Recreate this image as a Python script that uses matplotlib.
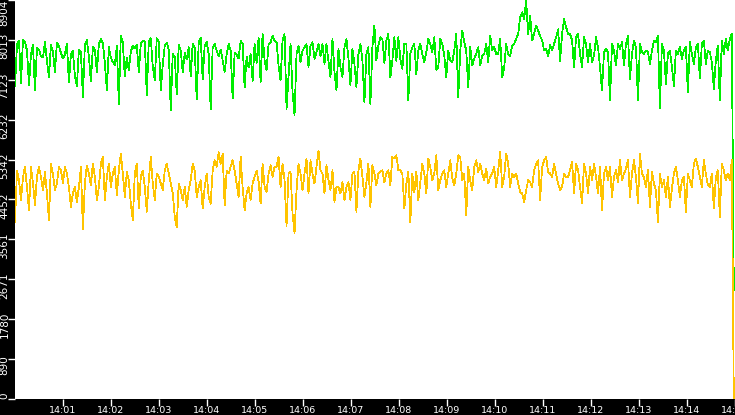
import numpy as np
import pandas as pd
import matplotlib
matplotlib.use("Agg")
import matplotlib.pyplot as plt
from matplotlib.transforms import ScaledTranslation, blended_transform_factory

# sampled every ~2.5 s from 14:00:00, last point is the drop at the end
green_values = [
    6980, 7920, 8000, 7050, 8020, 7960, 7780, 7000, 7700, 7900,
    6890, 7830, 7800, 7650, 7620, 7960, 7550, 7180, 7900, 7750,
    7300, 7950, 7880, 7720, 7600, 7690, 7920, 7070, 7690, 7760,
    7210, 6980, 7800, 7740, 6740, 7900, 8010, 7650, 7090, 7860,
    7800, 7300, 7920, 8030, 7950, 7500, 6890, 7850, 7620, 7520,
    7450, 7880, 6590, 8110, 7950, 7200, 7620, 7330, 7760, 7880,
    7820, 7900, 7290, 7930, 8000, 7980, 6780, 7960, 8050, 7420,
    7110, 8050, 7960, 6900, 7450, 7890, 7950, 7800, 6450, 7700,
    7640, 6800, 7900, 7780, 7300, 7720, 7580, 7850, 7200, 7930,
    7830, 6680, 7960, 8060, 7130, 7880, 7970, 7700, 6470, 7850,
    7920, 7780, 7650, 7800, 7560, 7300, 7700, 7920, 7780, 6710,
    7720, 7680, 7600, 7990, 7930, 6950, 7640, 7400, 7700, 7100,
    7924, 7500, 8050, 7070, 8150, 7550, 7330, 7924, 7960, 8110,
    7998, 7960, 7440, 7110, 8000, 8147, 6477, 7200, 7924, 6848,
    6330, 7702, 7887, 7516, 7776, 7850, 7924, 7405, 7887, 7961,
    7590, 7739, 7924, 7650, 7924, 7480, 7924, 7530, 7182, 8036,
    7300, 6885, 7813, 7400, 7182, 7850, 8036, 7600, 7000, 7813,
    7479, 6960, 7700, 7924, 7550, 6626, 7700, 7850, 6589, 7850,
    8332, 7553, 7887, 8073, 8036, 7500, 7998, 8147, 7182, 7550,
    8073, 7550, 8073, 7590, 7368, 7924, 7924, 6663, 7702, 7850,
    7924, 7250, 7776, 7924, 7702, 7516, 7739, 8036, 7924, 7739,
    8073, 7350, 7405, 8036, 7924, 7665, 7182, 7776, 7550, 7516,
    7776, 8147, 6737, 7776, 8221, 7961, 7776, 6960, 7850, 7442,
    7590, 7702, 7850, 7442, 7665, 7702, 7924, 7516, 8110, 7776,
    7850, 7700, 7702, 8036, 7182, 7400, 7924, 7700, 7650, 7880,
    7924, 8036, 8147, 8517, 8628, 8480, 8888, 8150, 8550, 7998,
    8147, 8332, 8220, 8100, 8000, 7776, 7813, 7650, 7900, 7776,
    7924, 8073, 8250, 7550, 8147, 8480, 8300, 8147, 8147, 8000,
    7400, 8073, 8147, 7702, 7405, 8073, 7924, 7516, 7924, 7516,
    7665, 8073, 7850, 7405, 6885, 7739, 7813, 7739, 6663, 7924,
    7776, 7440, 7924, 7813, 7961, 7440, 7924, 8110, 7145, 7700,
    7998, 7850, 6663, 7924, 7739, 7702, 7776, 7739, 7480, 7776,
    7998, 7961, 8110, 6480, 7924, 7776, 7034, 7702, 7776, 7405,
    6990, 7776, 7702, 7850, 7590, 7776, 7850, 6848, 7961, 7702,
    7479, 7850, 7924, 7150, 7924, 7998, 7479, 7776, 7739, 7516,
    6920, 7553, 7887, 6663, 7998, 7702, 8036, 7776, 8036, 8147,
    2430,
]

yellow_values = [
    3950, 5100, 4880, 4440, 4950, 5180, 4730, 4210, 5180, 4810,
    4330, 4960, 5180, 4960, 4660, 5070, 4590, 3990, 5250, 5030,
    4660, 4810, 5180, 5100, 4810, 5180, 5030, 4730, 4290, 4590,
    4730, 4400, 4730, 5180, 3780, 4810, 5210, 5030, 4770, 5250,
    4960, 4440, 4730, 5250, 5400, 4440, 4960, 5250, 4730, 5030,
    5180, 4550, 5100, 5470, 5030, 4510, 5070, 4880, 4360, 3990,
    5030, 5250, 4250, 4960, 5100, 4730, 4180, 4880, 5400, 4810,
    4440, 5030, 4960, 4810, 4660, 5100, 5250, 5030, 4810, 4590,
    4070, 3840, 4810, 4660, 4440, 4730, 4290, 4660, 4880, 5250,
    5100, 4510, 4730, 4880, 4250, 4730, 5030, 4510, 4360, 5100,
    5330, 5180, 5510, 5250, 5470, 4330, 5100, 5030, 5180, 5330,
    5100, 4810, 4510, 5400, 4730, 4210, 4590, 4730, 4440, 4810,
    4955, 5100, 4850, 4360, 5252, 4733, 4620, 5030, 5215, 4955,
    5178, 5178, 5400, 4733, 5252, 4881, 3866, 5030, 5070, 4140,
    3700, 4659, 5252, 5030, 4659, 5030, 5365, 4585, 5327, 5030,
    4807, 5178, 5549, 5104, 5030, 4585, 5215, 4881, 4659, 5104,
    4400, 4733, 4733, 4585, 4840, 4436, 4733, 4840, 4436, 5030,
    5070, 4180, 5104, 5365, 4955, 4510, 4840, 5252, 4290, 5215,
    5030, 4770, 5030, 5070, 5104, 4840, 5030, 5104, 4770, 5400,
    5365, 5440, 5104, 5104, 5030, 4250, 4807, 5070, 3950, 5030,
    4620, 5070, 4436, 4840, 5252, 5030, 4585, 5365, 5178, 4881,
    5030, 5440, 4659, 4881, 5030, 5104, 4733, 5030, 5327, 4920,
    4770, 5030, 5440, 5400, 4881, 5030, 4100, 5178, 4881, 4659,
    5178, 5327, 5070, 5252, 5030, 4881, 5140, 4807, 4955, 5030,
    5178, 4733, 5100, 5512, 4733, 4955, 5475, 5252, 4733, 5030,
    4955, 5030, 4807, 4622, 4585, 4400, 4659, 4881, 4840, 4733,
    5104, 5252, 5327, 4436, 5178, 5327, 5401, 5070, 5030, 4955,
    5252, 5030, 4807, 4659, 4733, 5030, 4955, 4955, 5104, 5290,
    4585, 5252, 5104, 4733, 4362, 5252, 5030, 4585, 5178, 4881,
    5252, 4955, 4585, 5178, 4214, 5030, 5178, 4881, 5178, 4510,
    4955, 5104, 4840, 5327, 4881, 5030, 5140, 5327, 4510, 5030,
    5327, 4955, 4362, 5475, 5030, 4955, 4733, 5104, 4288, 5070,
    4807, 4659, 3954, 5030, 4733, 4881, 4510, 4955, 4288, 4700,
    5030, 5178, 4881, 4510, 4881, 4955, 4180, 5030, 4881, 4733,
    5252, 5365, 5178, 4955, 4733, 5327, 5030, 4770, 4733, 5030,
    4250, 4955, 5104, 4065, 5252, 5104, 4881, 5030, 4881, 5327,
    0,
]

y_max = 8904.2
y_tick_labels = ["0", "890", "1780", "2671", "3561", "4452",
                 "5342", "6232", "7123", "8013", "8904"]
x_tick_labels = ["14:01", "14:02", "14:03", "14:04", "14:05", "14:06", "14:07",
                 "14:08", "14:09", "14:10", "14:11", "14:12", "14:13", "14:14", "14:15"]

day = "2024-01-01 "
green_t = pd.date_range(day + "14:00:00", day + "14:14:58.5", periods=len(green_values))
yellow_t = pd.date_range(day + "14:00:00", day + "14:14:58.5", periods=len(yellow_values))
x_ticks = pd.to_datetime([day + s for s in x_tick_labels])

fig = plt.figure(figsize=(7.35, 4.15), dpi=100, facecolor="black")
ax = fig.add_axes([15 / 735, 16 / 415, 720 / 735, 399 / 415])
ax.set_facecolor("white")

ax.plot(green_t, green_values, color="#00ee00", lw=0.55, antialiased=False)
ax.plot(yellow_t, yellow_values, color="#ffc400", lw=0.55, antialiased=False)

ax.set_xlim(pd.Timestamp(day + "14:00:00"), pd.Timestamp(day + "14:15:00"))
ax.set_ylim(0, y_max)
for s in ax.spines.values():
    s.set_visible(False)

ax.set_xticks(x_ticks)
ax.set_xticklabels(x_tick_labels)
ax.tick_params(axis="x", colors="white", length=5, width=1, pad=0, labelsize=6.8)

y_ticks = [y_max * k / 10 for k in range(len(y_tick_labels))]
ax.set_yticks(y_ticks)
ax.set_yticklabels([])
ax.tick_params(axis="y", colors="white", length=5, width=1)

# rotated y labels sit a bit below their tick and stay inside the plot height
tr = blended_transform_factory(ax.transAxes, ax.transData)
for i, (v, lab) in enumerate(zip(y_ticks, y_tick_labels)):
    if i == 0:
        va, dy = "bottom", 0
    elif i == len(y_ticks) - 1:
        va, dy = "top", 0
    else:
        va, dy = "center", -6 / 100
    off = ScaledTranslation(-5.5 / 100, dy, fig.dpi_scale_trans)
    ax.text(0, v, lab, transform=tr + off, rotation=90, ha="right", va=va,
            color="white", fontsize=7.5, clip_on=False)

fig.savefig("out.png", dpi=100, facecolor="black")
